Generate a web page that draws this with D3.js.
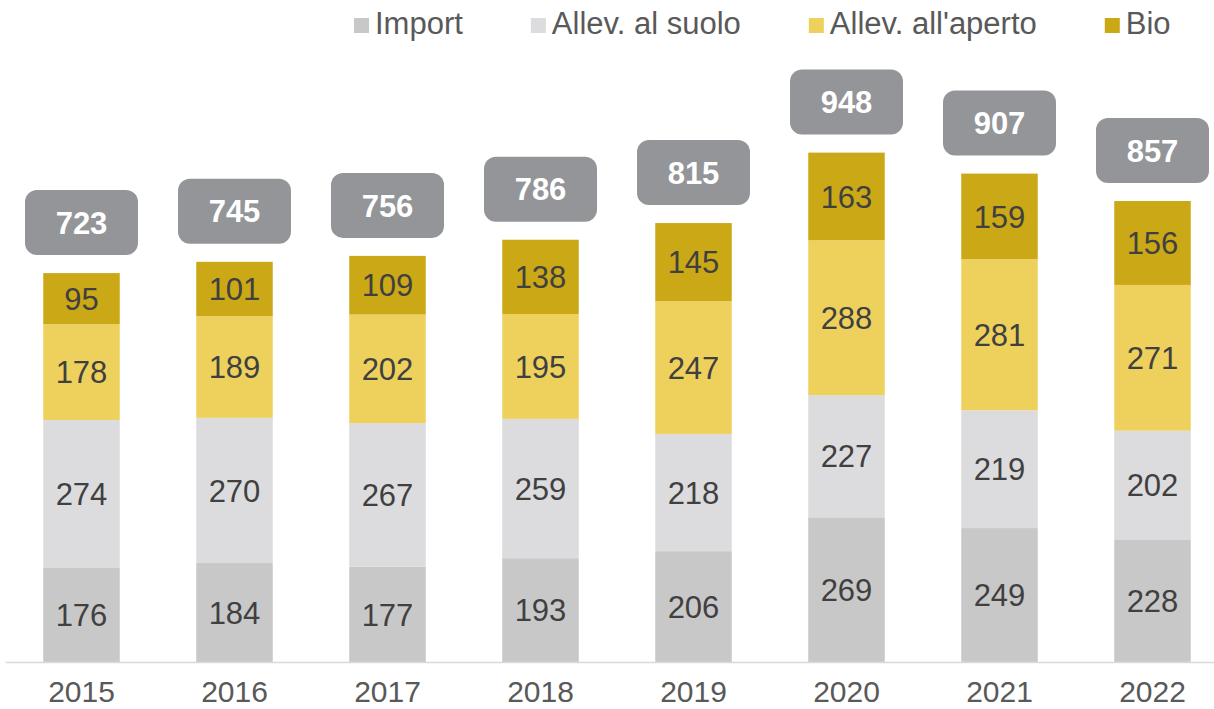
<!DOCTYPE html>
<html>
<head>
<meta charset="utf-8">
<script src="https://cdn.jsdelivr.net/npm/d3@7/dist/d3.min.js"></script>
<style>
  body { margin: 0; background: #fff; }
  svg { display: block; font-family: Arial, "Liberation Sans", sans-serif; }
</style>
</head>
<body>
<svg id="chart"></svg>
<script>
// data
const years = ['2015', '2016', '2017', '2018', '2019', '2020', '2021', '2022'];
const seriesNames = ['Import', 'Allev. al suolo', "Allev. all'aperto", 'Bio'];
const importVals = [176, 184, 177, 193, 206, 269, 249, 228];
const suoloVals = [274, 270, 267, 259, 218, 227, 219, 202];
const apertoVals = [178, 189, 202, 195, 247, 288, 281, 271];
const bioVals = [95, 101, 109, 138, 145, 163, 159, 156];
const totals = [723, 745, 756, 786, 815, 948, 907, 857];

const colors = ['#c8c8c9', '#dcdcde', '#eed15c', '#cba816'];

const width = 1214, height = 709;
const baseline = 662;

const svg = d3.select('#chart')
    .attr('width', width)
    .attr('height', height);

// table for the stack
const rows = years.map((y, i) => ({
  year: y,
  'Import': importVals[i],
  'Allev. al suolo': suoloVals[i],
  "Allev. all'aperto": apertoVals[i],
  'Bio': bioVals[i],
  total: totals[i]
}));

const stack = d3.stack().keys(seriesNames);
const layers = stack(rows);

const xScale = d3.scaleBand()
    .domain(years)
    .range([5, 1229])
    .paddingInner(0.5)
    .paddingOuter(0.25);

const yScale = d3.scaleLinear()
    .domain([0, 1000])
    .range([baseline, baseline - 537.9]);

const colorScale = d3.scaleOrdinal()
    .domain(seriesNames)
    .range(colors);

// bars
const layerG = svg.selectAll('.layer')
    .data(layers)
  .join('g')
    .attr('class', 'layer')
    .attr('fill', d => colorScale(d.key));

layerG.selectAll('rect')
    .data(d => d)
  .join('rect')
    .attr('x', d => xScale(d.data.year))
    .attr('width', xScale.bandwidth())
    .attr('y', d => yScale(d[1]))
    .attr('height', d => yScale(d[0]) - yScale(d[1]));

// segment values
layerG.selectAll('text')
    .data(d => d)
  .join('text')
    .attr('x', d => xScale(d.data.year) + xScale.bandwidth() / 2)
    .attr('y', d => (yScale(d[0]) + yScale(d[1])) / 2)
    .attr('dy', '0.36em')
    .attr('text-anchor', 'middle')
    .attr('fill', '#404040')
    .style('font-size', '31px')
    .text(d => d[1] - d[0]);

// total boxes
const boxW = 113, boxH = 65, gap = 18;
const topLayer = layers[layers.length - 1];
const totalG = svg.selectAll('.total')
    .data(topLayer)
  .join('g')
    .attr('class', 'total')
    .attr('transform', d => `translate(${xScale(d.data.year) + xScale.bandwidth() / 2},${yScale(d[1]) - gap - boxH / 2})`);

totalG.append('rect')
    .attr('x', -boxW / 2)
    .attr('y', -boxH / 2)
    .attr('width', boxW)
    .attr('height', boxH)
    .attr('rx', 12)
    .attr('fill', '#939598');

totalG.append('text')
    .attr('text-anchor', 'middle')
    .attr('dy', '0.36em')
    .attr('fill', '#fff')
    .style('font-size', '31px')
    .style('font-weight', 'bold')
    .text(d => d.data.total);

// x axis
const xAxis = d3.axisBottom(xScale)
    .tickSize(0)
    .tickSizeOuter(0);

const xAxisG = svg.append('g')
    .attr('class', 'axis x-axis')
    .attr('transform', `translate(0,${baseline})`)
    .call(xAxis);

xAxisG.select('.domain')
    .attr('stroke', '#d9d9d9')
    .attr('stroke-width', 1.5);

xAxisG.selectAll('text')
    .attr('y', 40)
    .attr('dy', 0)
    .attr('fill', '#595959')
    .style('font-size', '30px')
    .style('font-family', 'Arial, "Liberation Sans", sans-serif');

// legend
const legend = svg.append('g').attr('class', 'legend');
let lx = 354;
seriesNames.forEach((name, i) => {
  const item = legend.append('g').attr('transform', `translate(${lx},0)`);
  item.append('rect')
      .attr('x', 0)
      .attr('y', 18)
      .attr('width', 15)
      .attr('height', 15)
      .attr('fill', colors[i]);
  const t = item.append('text')
      .attr('x', 21)
      .attr('y', 34)
      .attr('fill', '#595959')
      .style('font-size', '31px')
      .text(name);
  lx += 21 + t.node().getComputedTextLength() + 68;
});
</script>
</body>
</html>
